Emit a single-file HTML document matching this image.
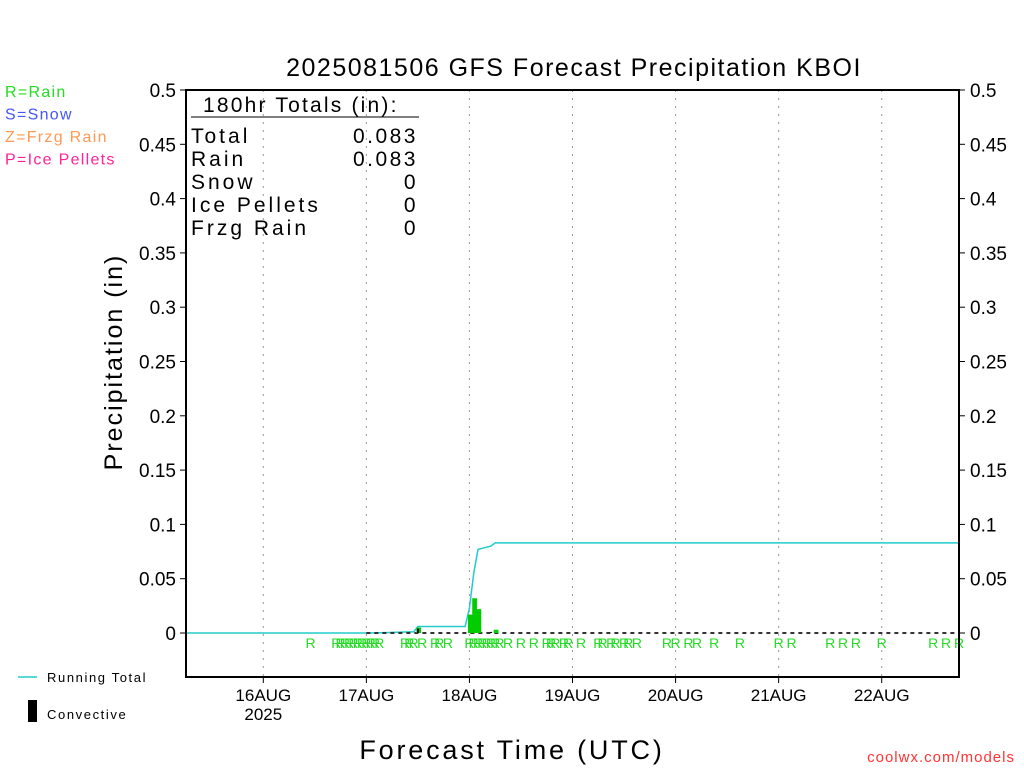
<!DOCTYPE html>
<html><head><meta charset="utf-8">
<style>
body{margin:0;background:#fff;}
svg text{font-family:"Liberation Sans",sans-serif;}
</style></head>
<body>
<svg id="chart" width="1024" height="768" xmlns="http://www.w3.org/2000/svg">
<g id="g-root"></g>
</svg>
<script>
// Data
const yTicks = [0,0.05,0.1,0.15,0.2,0.25,0.3,0.35,0.4,0.45,0.5];
const yTickLabels = ["0","0.05","0.1","0.15","0.2","0.25","0.3","0.35","0.4","0.45","0.5"];
const dayHours = [18,42,66,90,114,138,162];
const dayLabels = ["16AUG","17AUG","18AUG","19AUG","20AUG","21AUG","22AUG"];
const rainHours = [44,45,46,47,48,49,50,51,52,54,66,67,68,69,70,71,72];
const rainAmounts = [0.0001,0.0001,0.0001,0.0001,0.0002,0.0001,0.0001,0.0001,0.0001,0.005,0.017,0.032,0.022,0.001,0.001,0.001,0.003];
const convHours = [54,71];
const convAmounts = [0.004,0.001];
const rMarkHours = [29,35,36,37,38,39,40,41,42,43,44,45,51,52,53,55,58,59,61,66,67,68,69,70,71,72,73,75,78,81,84,85,86,88,89,92,96,97,99,100,102,103,105,112,114,117,119,123,129,138,141,150,153,156,162,174,177,180];

const NS="http://www.w3.org/2000/svg";
const root=document.getElementById('g-root');
const X0=186,X1=959,Y0=633,YT=90,YB=677,HMAX=180;
function xs(h){return X0+h*(X1-X0)/HMAX;}
function ys(v){return Y0-v*(Y0-YT)/0.5;}
function mk(tag,attrs,name,parent){const e=document.createElementNS(NS,tag);for(const k in attrs)e.setAttribute(k,attrs[k]);


(parent||root).appendChild(e);return e;}
function txt(s,attrs,name){const e=mk('text',attrs,name);e.textContent=s;return e;}

// gridlines
dayHours.forEach((h,i)=>{mk('line',{x1:xs(h),x2:xs(h),y1:YT,y2:YB,stroke:'#999','stroke-dasharray':'2,6','stroke-width':1},'x-gridline');});

// totals box
txt("180hr Totals (in):",{x:203,y:112,'font-size':21,fill:'#000','letter-spacing':2.2},'totals-title');
mk('line',{x1:191,x2:419,y1:117,y2:117,stroke:'#000','stroke-width':1},'totals-underline');
const tl=[["Total","0.083"],["Rain","0.083"],["Snow","0"],["Ice Pellets","0"],["Frzg Rain","0"]];
tl.forEach((r,i)=>{const y=143+i*23;
txt(r[0],{x:191,y:y,'font-size':21,fill:'#000','letter-spacing':3},'totals-label');
txt(r[1],{x:418,y:y,'font-size':21,fill:'#000','text-anchor':'end','letter-spacing':2.5},'totals-value');});

// running total
let cum=0;let pts=[[xs(0),ys(0)]];
for(let h=0;h<=HMAX;h++){const i=rainHours.indexOf(h);if(i>=0)cum+=rainAmounts[i];pts.push([xs(h),ys(cum)]);}
mk('polyline',{points:pts.map(p=>p.join(',')).join(' '),fill:'none',stroke:'#22cccc','stroke-width':1.5},'running-total-line');

// zero dashed line
mk('line',{x1:xs(42),x2:X1,y1:Y0,y2:Y0,stroke:'#333','stroke-dasharray':'4,4','stroke-width':2},'zero-line');

// rain bars
rainHours.forEach((h,i)=>{const v=rainAmounts[i];if(v<0.002)return;
mk('rect',{x:xs(h-0.35),y:ys(v),width:xs(1.1)-xs(0),height:ys(0)-ys(v),fill:'#00cc00'},'rain-bar');});
convHours.forEach((h,i)=>{const v=convAmounts[i];
mk('rect',{x:xs(h-0.2),y:ys(v),width:2,height:ys(0)-ys(v),fill:'#000'},'convective-bar');});

// R marks
rMarkHours.forEach(h=>{txt('R',{x:xs(h),y:648,'font-size':14,fill:'#22dd22','text-anchor':'middle'},'rain-marker');});

// frame
mk('rect',{x:X0,y:YT,width:X1-X0,height:YB-YT,fill:'none',stroke:'#000','stroke-width':2},'plot-frame');

// y ticks
yTicks.forEach((v,i)=>{const y=ys(v);
mk('line',{x1:X0-6,x2:X0,y1:y,y2:y,stroke:'#000','stroke-width':1},'y-tick-left');
mk('line',{x1:X1,x2:X1+6,y1:y,y2:y,stroke:'#000','stroke-width':1},'y-tick-right');
txt(yTickLabels[i],{x:176,y:y+7,'font-size':19,'text-anchor':'end',fill:'#000'},'y-tick-label-left');
txt(yTickLabels[i],{x:970,y:y+7,'font-size':19,fill:'#000'},'y-tick-label-right');});

// x ticks
dayHours.forEach((h,i)=>{const x=xs(h);
mk('line',{x1:x,x2:x,y1:YB,y2:YB+6,stroke:'#000','stroke-width':1},'x-tick');
txt(dayLabels[i],{x:x,y:701,'font-size':17,'text-anchor':'middle',fill:'#000'},'x-tick-label');});
txt("2025",{x:xs(18),y:720,'font-size':17,'text-anchor':'middle',fill:'#000'},'x-year-label');

// titles
txt("2025081506 GFS Forecast Precipitation KBOI",{x:574,y:76,'font-size':25,'text-anchor':'middle',fill:'#000','letter-spacing':1.5},'chart-title');
txt("Forecast Time (UTC)",{x:512,y:759,'font-size':27,'text-anchor':'middle',fill:'#000','letter-spacing':2.8},'x-axis-title');
txt("Precipitation (in)",{x:0,y:0,'font-size':25,'text-anchor':'middle',fill:'#000','letter-spacing':2,transform:'translate(122,362) rotate(-90)'},'y-axis-title');
txt("coolwx.com/models",{x:1015,y:762,'font-size':15,'text-anchor':'end',fill:'#ff3333','letter-spacing':1},'credit-text');

// type legend
[["R=Rain","#22dd22"],["S=Snow","#4455ff"],["Z=Frzg Rain","#ff9955"],["P=Ice Pellets","#ff2299"]].forEach((l,i)=>{
txt(l[0],{x:5,y:97+i*22.5,'font-size':16,fill:l[1],'letter-spacing':1.3},'type-legend-entry');});

// series legend
mk('line',{x1:18,x2:37,y1:677,y2:677,stroke:'#22cccc','stroke-width':1.5},'legend-running-total-swatch');
txt("Running Total",{x:47,y:682,'font-size':13,fill:'#000','letter-spacing':1.6},'legend-running-total-label');
mk('rect',{x:28,y:700,width:9,height:22,fill:'#000'},'legend-convective-swatch');
txt("Convective",{x:47,y:719,'font-size':13,fill:'#000','letter-spacing':1.6},'legend-convective-label');
</script>
</body></html>
